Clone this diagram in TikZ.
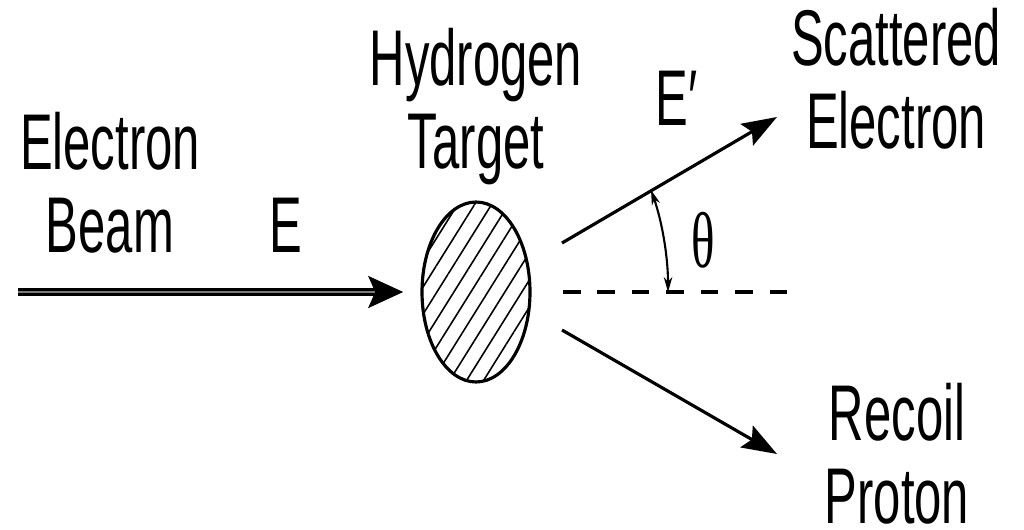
\documentclass[tikz,border=0pt]{standalone}
\usepackage{fontspec}
\setmainfont{Liberation Sans}[FakeStretch=0.62]
\newfontfamily\thetafont{Liberation Serif}[FakeStretch=0.62]
\usetikzlibrary{arrows.meta,shapes.geometric,patterns.meta,calc}
\definecolor{BeamGrey}{HTML}{7A7A7A}

\begin{document}
\begin{tikzpicture}[x=0.02cm,y=0.02cm,
  labeltext/.style={font=\fontsize{45}{47}\selectfont,inner sep=0pt,align=center,anchor=base},
  ray/.style={line width=1.8pt,-{Stealth[length=0.7cm,width=0.5cm,inset=0.12cm]}},
  beam/.style={line width=1.5pt,double=BeamGrey,double distance=1.5pt,-{Stealth[length=0.7cm,width=0.64cm,inset=0.14cm]}},
  anglearc/.style={line width=1.2pt,{Stealth[length=0.3cm,width=0.17cm]}-{Stealth[length=0.3cm,width=0.17cm]}},
  target/.style={ellipse,draw,line width=1.8pt,minimum width=2.16cm,minimum height=3.6cm,inner sep=0pt,
    pattern={Lines[angle=58,distance=8.2pt,line width=0.9pt]}}]
  \useasboundingbox (0,0) rectangle (1024,529);
  \node[target] (target) at (476,237) {};
  \coordinate (beamstart) at (18,237);
  \coordinate (scatstart) at (562,286);\coordinate (scatend) at (777,412);
  \coordinate (recoilstart) at (562,199);\coordinate (recoilend) at (777,75);
  \coordinate (axisstart) at (563,237);\coordinate (axisend) at (787,237);
  \draw[beam,shorten >=0.36cm] (beamstart) -- (target.west);
  \draw[ray] (scatstart) -- (scatend);
  \draw[ray] (recoilstart) -- (recoilend);
  \draw[line width=2.2pt,dash pattern=on 10pt off 9.6pt] (axisstart) -- (axisend);
  % scattering angle, measured from the beam axis through the target centre
  \draw[anglearc] ($(target.center)+(175,102)$) arc[start angle=24.3,end angle=0,x radius=192,y radius=248];
  \node[labeltext] (beamlabel) at (110,277) {Electron\\Beam};
  \node[labeltext] (beamenergy) at (286,277) {E};
  \node[labeltext] (targetlabel) at (476,361) {Hydrogen\\Target};
  \node[labeltext,anchor=base west] (scatenergy) at (655,404) {E′};
  \node[labeltext] (scatlabel) at (896,381) {Scattered\\Electron};
  \node[labeltext] (recoillabel) at (897,6) {Recoil\\Proton};
  \node[labeltext,font=\thetafont\fontsize{45}{47}\selectfont,anchor=center] (anglelabel) at (703,289) {θ};
\end{tikzpicture}
\end{document}
